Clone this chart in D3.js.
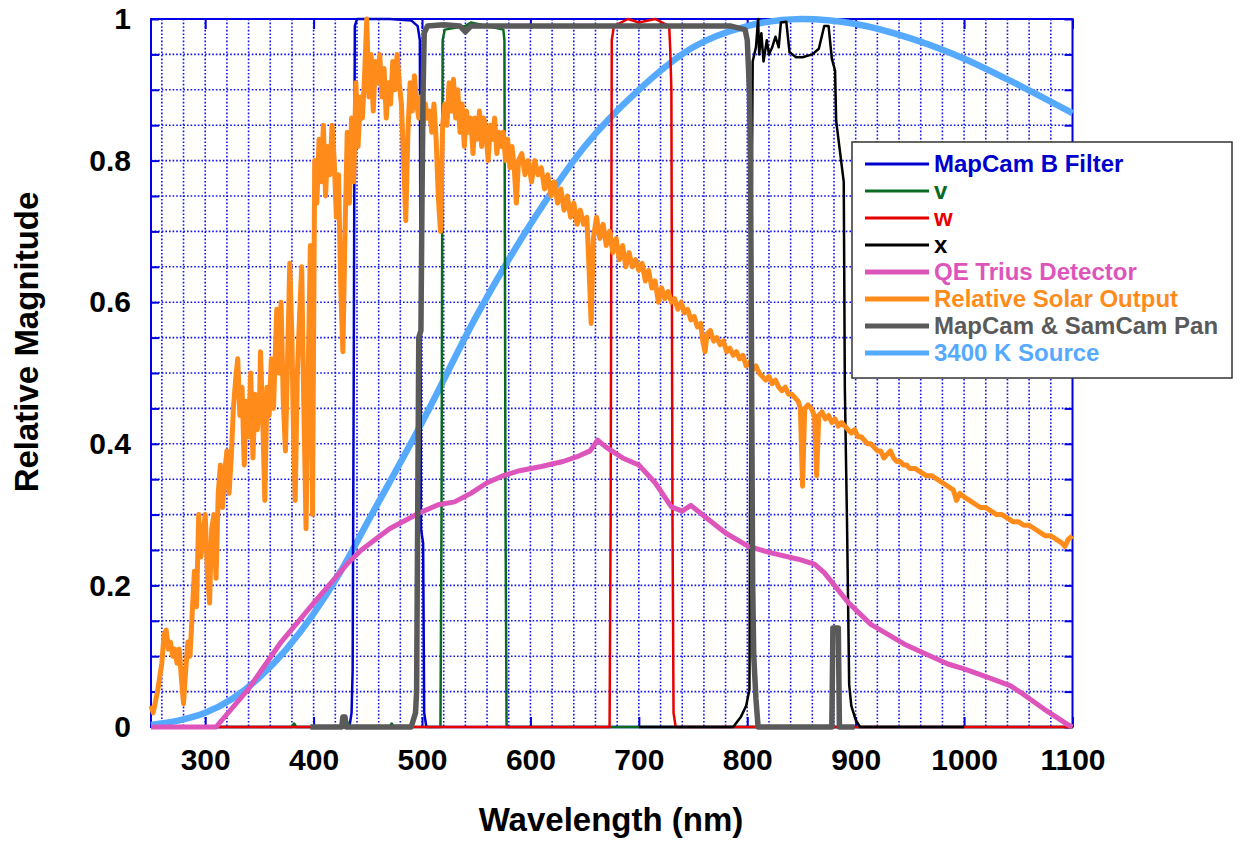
<!DOCTYPE html>
<html>
<head>
<meta charset="utf-8">
<script src="https://cdn.jsdelivr.net/npm/d3@7/dist/d3.min.js"></script>
<style>
body { margin: 0; background: #fff; }
text { font-family: "Liberation Sans", Arial, sans-serif; font-weight: bold; }
</style>
</head>
<body>
<svg id="chart" width="1246" height="843"></svg>
<script>
// ---- data: [wavelength nm, relative magnitude] ----
var bFilter = [[250,0],[433,0],[435,0.02],[436,0.08],[437,0.5],[438,0.99],[440,1.0],[470,1.0],[490,0.998],[496,0.99],[498,0.97],[499,0.28],[501,0.26],[502,0.02],[504,0],[1100,0]];

var vFilter = [[250,0],[380,0],[382,0.005],[384,0],[430,0],[432,0.006],[434,0],[470,0],[472,0.005],[474,0],[517,0],[518,0.3],[519,0.97],[521,0.985],[540,0.99],[545,0.995],[560,0.99],[575,0.985],[576,0.97],[577,0.3],[578,0],[1100,0]];

var wFilter = [[250,0],[673,0],[674,0.3],[675,0.97],[677,0.99],[690,1.0],[700,0.995],[715,1.0],[728,0.99],[729,0.955],[730,0.9],[731,0.3],[732,0.02],[734,0],[1100,0]];

var xFilter = [[700,0],[787,0],[794,0.014],[799,0.03],[802,0.053],[803,0.5],[805,0.94],[808,0.96],[810,1.0],[811,0.95],[813,0.98],[815,0.94],[818,0.97],[820,0.95],[823,0.96],[826,0.975],[829,0.96],[831,0.995],[836,0.996],[839,0.953],[845,0.946],[851,0.946],[860,0.95],[866,0.958],[871,0.99],[875,0.99],[878,0.944],[881,0.927],[882,0.856],[889,0.77],[890,0.48],[892,0.29],[894,0.06],[896,0.03],[900,0.01],[904,0],[1000,0]];

var qeTrius = [[250,0],[310,0],[340,0.054],[370,0.12],[400,0.175],[432,0.232],[444,0.25],[470,0.28],[497,0.302],[515,0.314],[530,0.318],[545,0.33],[560,0.345],[575,0.355],[590,0.362],[610,0.368],[630,0.375],[645,0.383],[655,0.39],[662,0.405],[670,0.395],[685,0.38],[700,0.37],[715,0.345],[730,0.311],[740,0.305],[748,0.313],[761,0.297],[780,0.274],[801,0.255],[822,0.246],[847,0.237],[862,0.23],[871,0.218],[893,0.176],[914,0.145],[945,0.117],[985,0.089],[1000,0.082],[1022,0.07],[1043,0.058],[1052,0.049],[1074,0.025],[1095,0.004],[1100,0]];

var solar = [[250,0.03],[252,0.02],[254,0.035],[256,0.05],[258,0.07],[260,0.09],[262,0.13],[264,0.137],[266,0.11],[268,0.12],[270,0.10],[272,0.11],[274,0.09],[276,0.11],[278,0.07],[280,0.033],[282,0.08],[284,0.12],[286,0.10],[288,0.16],[290,0.22],[292,0.17],[294,0.30],[296,0.24],[298,0.27],[300,0.30],[302,0.22],[304,0.175],[306,0.28],[308,0.30],[310,0.21],[312,0.33],[314,0.37],[316,0.31],[318,0.36],[320,0.39],[322,0.33],[324,0.38],[326,0.45],[328,0.49],[330,0.52],[332,0.44],[334,0.48],[336,0.37],[338,0.46],[340,0.41],[342,0.50],[344,0.38],[346,0.47],[348,0.42],[350,0.45],[351,0.53],[353,0.44],[355,0.32],[357,0.48],[359,0.44],[361,0.52],[363,0.45],[366,0.59],[368,0.50],[370,0.60],[372,0.46],[374,0.39],[376,0.52],[378,0.655],[380,0.55],[381,0.45],[383,0.32],[385,0.50],[387,0.58],[389,0.65],[391,0.45],[393,0.28],[395,0.50],[397,0.68],[399,0.30],[401,0.80],[403,0.74],[405,0.83],[407,0.77],[409,0.85],[411,0.75],[413,0.82],[415,0.78],[417,0.85],[419,0.80],[421,0.72],[423,0.78],[425,0.62],[427,0.53],[429,0.70],[431,0.84],[433,0.74],[435,0.86],[437,0.77],[439,0.91],[441,0.82],[443,0.89],[445,0.86],[447,0.92],[449,1.0],[451,0.89],[453,0.95],[455,0.87],[457,0.94],[459,0.91],[461,0.95],[463,0.89],[465,0.93],[467,0.86],[469,0.91],[471,0.88],[473,0.94],[475,0.90],[477,0.95],[479,0.91],[481,0.88],[483,0.80],[485,0.715],[487,0.84],[489,0.91],[491,0.87],[493,0.92],[495,0.88],[497,0.86],[499,0.89],[501,0.85],[503,0.88],[505,0.86],[507,0.87],[509,0.84],[511,0.88],[513,0.83],[515,0.75],[517,0.70],[519,0.85],[521,0.88],[523,0.85],[525,0.91],[527,0.87],[529,0.915],[531,0.86],[533,0.90],[535,0.84],[537,0.88],[539,0.82],[541,0.87],[543,0.84],[545,0.86],[547,0.81],[549,0.86],[551,0.83],[553,0.87],[555,0.82],[557,0.86],[559,0.84],[561,0.80],[563,0.85],[565,0.83],[567,0.86],[569,0.81],[571,0.84],[573,0.82],[575,0.84],[577,0.80],[579,0.83],[581,0.79],[583,0.82],[585,0.79],[587,0.74],[589,0.80],[592,0.81],[595,0.78],[598,0.80],[601,0.77],[604,0.80],[607,0.78],[610,0.79],[613,0.76],[616,0.78],[619,0.75],[622,0.77],[625,0.74],[628,0.76],[631,0.73],[634,0.75],[637,0.72],[640,0.74],[643,0.71],[646,0.73],[649,0.71],[652,0.72],[654,0.65],[656,0.57],[658,0.69],[661,0.72],[664,0.69],[667,0.71],[670,0.68],[673,0.70],[676,0.67],[679,0.69],[682,0.66],[685,0.68],[688,0.65],[691,0.67],[694,0.65],[697,0.66],[700,0.645],[703,0.655],[706,0.63],[709,0.645],[712,0.62],[715,0.63],[718,0.60],[721,0.62],[724,0.605],[727,0.615],[730,0.60],[733,0.605],[736,0.59],[739,0.60],[742,0.585],[745,0.59],[748,0.575],[751,0.58],[754,0.565],[757,0.57],[759,0.545],[761,0.53],[763,0.555],[766,0.56],[769,0.545],[772,0.55],[775,0.54],[778,0.545],[781,0.53],[784,0.535],[787,0.525],[790,0.53],[793,0.52],[796,0.525],[799,0.51],[802,0.515],[805,0.505],[808,0.51],[811,0.50],[814,0.495],[817,0.49],[820,0.495],[823,0.485],[826,0.49],[829,0.48],[832,0.475],[835,0.48],[838,0.47],[841,0.47],[844,0.465],[847,0.46],[849,0.45],[851,0.34],[853,0.45],[856,0.455],[859,0.45],[862,0.44],[864,0.355],[866,0.44],[869,0.445],[872,0.435],[875,0.44],[878,0.43],[881,0.435],[884,0.425],[887,0.43],[890,0.425],[893,0.42],[896,0.415],[899,0.42],[902,0.41],[905,0.41],[908,0.405],[911,0.40],[914,0.40],[917,0.395],[920,0.39],[923,0.39],[926,0.38],[929,0.385],[932,0.39],[935,0.38],[938,0.375],[941,0.375],[944,0.37],[947,0.37],[950,0.365],[955,0.365],[960,0.36],[965,0.355],[970,0.355],[975,0.35],[980,0.345],[985,0.34],[990,0.335],[993,0.32],[996,0.33],[1000,0.325],[1005,0.32],[1010,0.315],[1015,0.31],[1020,0.31],[1025,0.305],[1030,0.30],[1035,0.30],[1040,0.295],[1045,0.29],[1050,0.29],[1055,0.285],[1060,0.285],[1065,0.28],[1070,0.275],[1075,0.27],[1080,0.27],[1085,0.265],[1090,0.26],[1093,0.255],[1096,0.265],[1100,0.27]];

var panFilter = [[397,0],[426,0],[427,0.014],[429,0.014],[430,0],[490,0],[494,0.02],[495,0.05],[496,0.3],[497,0.55],[499,0.56],[500,0.75],[501,0.9],[502,0.98],[505,0.99],[520,0.992],[535,0.99],[540,0.982],[545,0.99],[600,0.99],[650,0.99],[700,0.99],[750,0.99],[785,0.99],[798,0.985],[800,0.97],[802,0.9],[803,0.8],[804,0.5],[805,0.2],[806,0.1],[808,0.04],[810,0],[878,0],[879,0.14],[884,0.14],[885,0],[899,0]];

var source3400 = [[250,0.003],[275,0.009],[300,0.02],[325,0.04],[350,0.07],[375,0.11],[400,0.16],[425,0.22],[450,0.29],[500,0.43],[550,0.58],[600,0.71],[650,0.82],[700,0.9],[750,0.96],[800,0.99],[850,1.0],[900,0.993],[950,0.973],[1000,0.944],[1050,0.907],[1100,0.867]];

var seriesNames = ["MapCam B Filter", "v", "w", "x", "QE Trius Detector", "Relative Solar Output", "MapCam & SamCam Pan", "3400 K Source"];
var seriesData = [bFilter, vFilter, wFilter, xFilter, qeTrius, solar, panFilter, source3400];
var xTicks = [300, 400, 500, 600, 700, 800, 900, 1000, 1100];
var yTicks = [0, 0.2, 0.4, 0.6, 0.8, 1];

// ---- styles ----
var colors = ["#0000cc", "#0b6a22", "#e60000", "#000000", "#dd55bb", "#ff8c1a", "#5a5a5a", "#55aaff"];
var widths = [2.5, 2.5, 2.5, 2.5, 5, 5, 5.5, 6.5];
// draw order: later ones end up on top
var drawOrder = [7, 0, 1, 2, 3, 4, 5, 6];

var margin = {top: 19, left: 151},
    width = 921.5,
    height = 708;

var svg = d3.select("#chart");
svg.append("rect").attr("width", 1246).attr("height", 843).attr("fill", "#fff");

var g = svg.append("g")
    .attr("transform", "translate(" + margin.left + "," + margin.top + ")");

var x = d3.scaleLinear().domain([250, 1100]).range([0, width]);
var y = d3.scaleLinear().domain([0, 1]).range([height, 0]);

// dotted grid
var gridColor = "#1111ee";
g.append("g").selectAll("line")
    .data(d3.range(260, 1100, 20))
    .join("line")
    .attr("x1", d => x(d)).attr("x2", d => x(d))
    .attr("y1", 0).attr("y2", height)
    .attr("stroke", gridColor)
    .attr("stroke-width", 1.6)
    .attr("stroke-dasharray", "1.6,2");

g.append("g").selectAll("line")
    .data(d3.range(1, 20).map(i => i * 0.05))
    .join("line")
    .attr("x1", 0).attr("x2", width)
    .attr("y1", d => y(d)).attr("y2", d => y(d))
    .attr("stroke", gridColor)
    .attr("stroke-width", 1.6)
    .attr("stroke-dasharray", "1.6,2");

// inward ticks on all four sides
var yMinor = d3.range(0, 21).map(i => i * 0.05);
var tickCol = "#0000e0";
function styleTicks(sel) {
    sel.select(".domain").remove();
    sel.selectAll(".tick line").attr("stroke", tickCol).attr("stroke-width", 2);
}
g.append("g").attr("transform", "translate(0," + height + ")")
    .call(d3.axisBottom(x).tickValues(xTicks).tickSizeInner(-10).tickSizeOuter(0).tickPadding(22).tickFormat(d3.format("d")))
    .call(styleTicks)
    .selectAll("text").attr("font-size", 30).attr("fill", "#000").attr("font-family", "Liberation Sans, Arial, sans-serif");
g.append("g")
    .call(d3.axisTop(x).tickValues(xTicks).tickSizeInner(-10).tickSizeOuter(0).tickFormat(""))
    .call(styleTicks);
g.append("g")
    .call(d3.axisLeft(y).tickValues(yMinor).tickSizeInner(-8).tickSizeOuter(0).tickFormat(""))
    .call(styleTicks);
g.append("g").attr("transform", "translate(" + width + ",0)")
    .call(d3.axisRight(y).tickValues(yMinor).tickSizeInner(-8).tickSizeOuter(0).tickFormat(""))
    .call(styleTicks);
g.append("g")
    .call(d3.axisLeft(y).tickValues(yTicks).tickSize(0).tickPadding(20).tickFormat(d3.format("~g")))
    .call(styleTicks)
    .selectAll("text").attr("font-size", 30).attr("fill", "#000").attr("font-family", "Liberation Sans, Arial, sans-serif");

// frame
g.append("rect")
    .attr("width", width).attr("height", height)
    .attr("fill", "none")
    .attr("stroke", "#0000e6")
    .attr("stroke-width", 2);

// series
var line = d3.line().x(d => x(d[0])).y(d => y(d[1]));
var smooth = d3.line().x(d => x(d[0])).y(d => y(d[1])).curve(d3.curveMonotoneX);

drawOrder.forEach(function(i) {
    g.append("path")
        .datum(seriesData[i])
        .attr("d", i == 7 ? smooth : line)
        .attr("fill", "none")
        .attr("stroke", colors[i])
        .attr("stroke-width", widths[i])
        .attr("stroke-linejoin", "round");
});

// axis titles
svg.append("text")
    .attr("x", 611).attr("y", 831)
    .attr("text-anchor", "middle")
    .attr("font-size", 33)
    .text("Wavelength (nm)");

svg.append("text")
    .attr("transform", "translate(38,342) rotate(-90)")
    .attr("text-anchor", "middle")
    .attr("font-size", 33)
    .text("Relative Magnitude");

// legend
var legend = svg.append("g").attr("transform", "translate(852,142)");
legend.append("rect")
    .attr("width", 380).attr("height", 236)
    .attr("fill", "#fff")
    .attr("stroke", "#333")
    .attr("stroke-width", 1.5);

seriesNames.forEach(function(name, i) {
    var cy = 22 + i * 27;
    legend.append("line")
        .attr("x1", 13).attr("x2", 77)
        .attr("y1", cy).attr("y2", cy)
        .attr("stroke", colors[i])
        .attr("stroke-width", i < 4 ? 3 : 5);
    legend.append("text")
        .attr("x", 82).attr("y", cy + 8)
        .attr("font-size", 24)
        .attr("fill", colors[i])
        .text(name);
});
</script>
</body>
</html>
